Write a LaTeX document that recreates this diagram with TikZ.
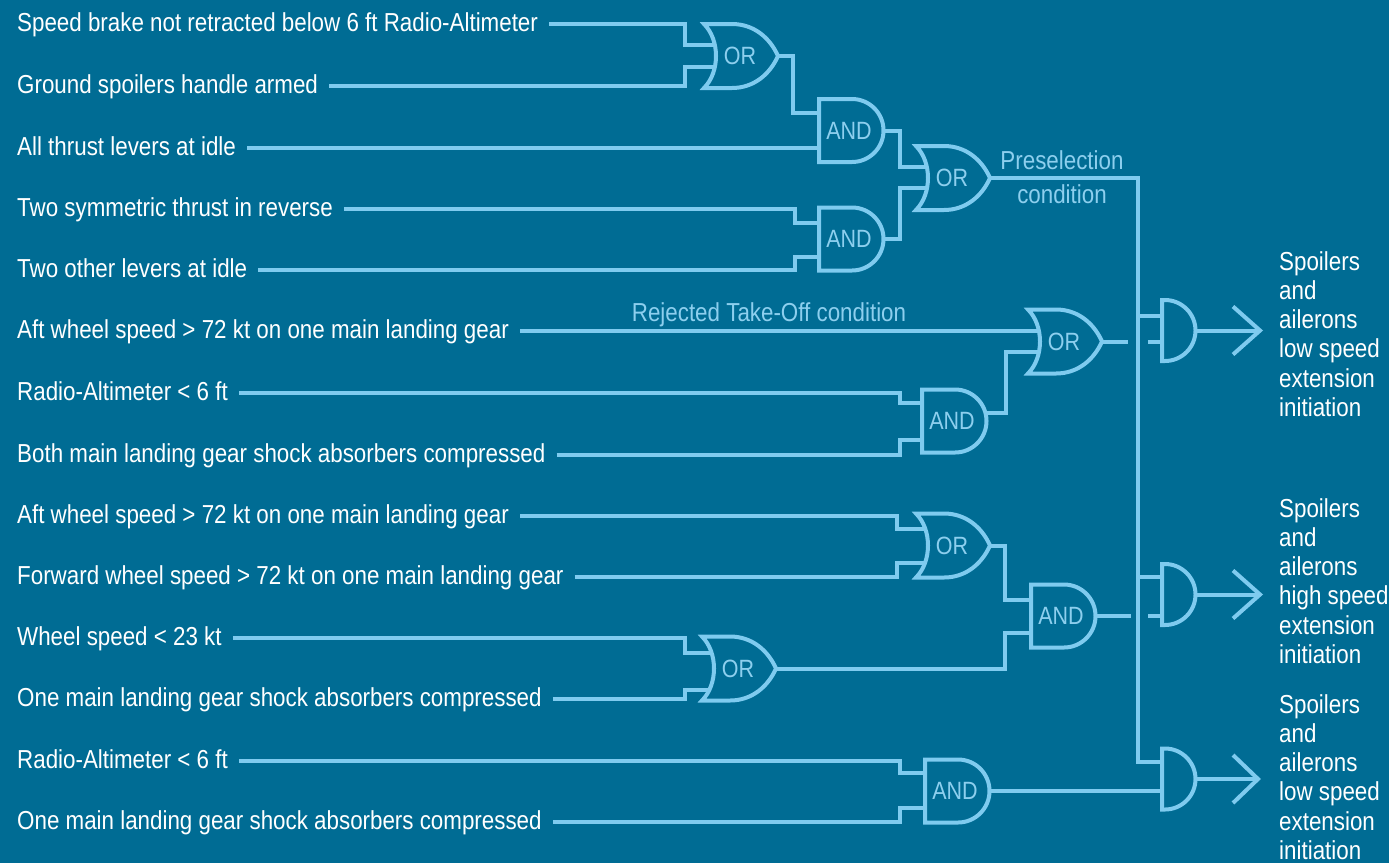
\documentclass[tikz,border=0pt]{standalone}
\usepackage{fontspec}
\setmainfont[FakeStretch=0.86]{Liberation Sans}
\usetikzlibrary{calc}
\definecolor{bgc}{HTML}{006C94}
\definecolor{wire}{HTML}{7FCBEF}
\definecolor{glab}{HTML}{8DCFEE}
\pgfdeclarelayer{bg}
\pgfsetlayers{bg,main}
\tikzset{
  wirestyle/.style={draw=wire, line width=4pt},
  gate/.style={draw=wire, fill=bgc, line width=4pt, line join=miter},
  gatelabel/.style={text=glab, font=\fontsize{25}{28}\selectfont, inner sep=0pt},
  inlabel/.style={text=white, font=\fontsize{26}{30}\selectfont, inner sep=0pt, anchor=base west},
  outlabel/.style={text=white, font=\fontsize{26}{29.3}\selectfont, inner sep=0pt, anchor=north west, align=left},
  condlabel/.style={text=glab, inner sep=0pt},
  pics/orgate/.style 2 args={code={
    \path[gate] (0,-32) -- (28,-32) .. controls (50,-32) and (66,-18) .. (74,0)
      .. controls (66,18) and (50,32) .. (28,32) -- (0,32)
      .. controls (16,16) and (16,-16) .. (0,-32) -- cycle;
    \node[gatelabel] (-t) at (36,0) {OR};
    \coordinate (-i1) at (0,#1);
    \coordinate (-i2) at (0,#2);
    \coordinate (-o) at (74,0);
  }},
  pics/andgate/.style n args={4}{code={
    \path[gate] (0,-31.5) -- (#1,-31.5) .. controls ({#1+17.4},-31.5) and ({#1+31.5},-17.4) .. ({#1+31.5},0)
      .. controls ({#1+31.5},17.4) and ({#1+17.4},31.5) .. (#1,31.5) -- (0,31.5) -- cycle;
    \node[gatelabel] (-t) at (30,0) {#4};
    \coordinate (-i1) at (0,#2);
    \coordinate (-i2) at (0,#3);
    \coordinate (-o) at ({#1+31.5},0);
  }},
  pics/smalland/.style 2 args={code={
    \path[gate] (0,-30.5) -- (3,-30.5) .. controls (19.8,-30.5) and (33.5,-16.8) .. (33.5,0)
      .. controls (33.5,16.8) and (19.8,30.5) .. (3,30.5) -- (0,30.5) -- cycle;
    \coordinate (-i1) at (0,#1);
    \coordinate (-i2) at (0,#2);
    \coordinate (-o) at (33.5,0);
  }}
}
\newcommand\wireto[3]{\draw[wirestyle] #1 -| ([xshift=-#2]#3) -- ([xshift=14]#3);}
\newcommand\lstart[1]{([xshift=11,yshift=7]#1.base east)}
\begin{document}
\begin{tikzpicture}[x=1pt,y=-1pt]
\useasboundingbox (0,0) rectangle (1389,863);

% input labels (baseline = wire row + 7)
\node[inlabel] (l1) at (17,31) {Speed brake not retracted below 6 ft Radio-Altimeter};
\node[inlabel] (l2) at (17,93) {Ground spoilers handle armed};
\node[inlabel] (l3) at (17,155) {All thrust levers at idle};
\node[inlabel] (l4) at (17,216) {Two symmetric thrust in reverse};
\node[inlabel] (l5) at (17,277) {Two other levers at idle};
\node[inlabel] (l6) at (17,338) {Aft wheel speed > 72 kt on one main landing gear};
\node[inlabel] (l7) at (17,400) {Radio-Altimeter < 6 ft};
\node[inlabel] (l8) at (17,462) {Both main landing gear shock absorbers compressed};
\node[inlabel] (l9) at (17,523) {Aft wheel speed > 72 kt on one main landing gear};
\node[inlabel] (l10) at (17,584) {Forward wheel speed > 72 kt on one main landing gear};
\node[inlabel] (l11) at (17,645) {Wheel speed < 23 kt};
\node[inlabel] (l12) at (17,706) {One main landing gear shock absorbers compressed};
\node[inlabel] (l13) at (17,768) {Radio-Altimeter < 6 ft};
\node[inlabel] (l14) at (17,829) {One main landing gear shock absorbers compressed};

% gates
\pic (or1) at (704,56) {orgate={-11}{11}};
\pic (and1) at (819,130.5) {andgate={33}{-17.5}{17.5}{AND}};
\pic (and2) at (819,239) {andgate={33}{-16}{18}{AND}};
\pic (or2) at (916,178) {orgate={-11}{10}};
\pic (or3) at (1028,341.5) {orgate={-10.5}{10.5}};
\pic (and4) at (922,421) {andgate={33}{-18}{19}{AND}};
\pic (or4) at (916,545.5) {orgate={-16.5}{17.5}};
\pic (and5) at (1031,616) {andgate={33}{-16}{17}{AND}};
\pic (or5) at (702,668.5) {orgate={-15.5}{21.5}};
\pic (and6) at (925,791) {andgate={33}{-18}{17}{AND}};
\pic (andT) at (1162,330.5) {smalland={-14.5}{11}};
\pic (andM) at (1162,594.5) {smalland={-17.5}{21.5}};
\pic (andB) at (1162,779) {smalland={-17}{12}};

\coordinate (tipT) at (1260,330.5);
\coordinate (tipM) at (1260,594.5);
\coordinate (tipB) at (1258,779);

% condition labels
\node[condlabel, font=\fontsize{26}{34}\selectfont, align=center, anchor=north] (pre) at (1062,150.5) {Preselection\\condition};
\node[condlabel, font=\fontsize{26}{30}\selectfont, anchor=base] (rto) at (769,321) {Rejected Take-Off condition};

% outputs
\node[outlabel] (oT) at (1279,251) {Spoilers\\and\\ailerons\\low speed\\extension\\initiation};
\node[outlabel] (oM) at (1279,498) {Spoilers\\and\\ailerons\\high speed\\extension\\initiation};
\node[outlabel] (oB) at (1279,694) {Spoilers\\and\\ailerons\\low speed\\extension\\initiation};

\begin{pgfonlayer}{bg}
\fill[bgc] (0,0) rectangle (1389,863);
% top block
\wireto{\lstart{l1}}{19}{or1-i1}
\wireto{\lstart{l2}}{19}{or1-i2}
\wireto{(or1-o)}{26}{and1-i1}
\draw[wirestyle] \lstart{l3} -- ([xshift=14]and1-i2);
\wireto{\lstart{l4}}{24}{and2-i1}
\wireto{\lstart{l5}}{24}{and2-i2}
\wireto{(and1-o)}{16}{or2-i1}
\wireto{(and2-o)}{16}{or2-i2}
% preselection bus
\draw[wirestyle] (or2-o) -| ([xshift=-24]andB-i1) -- ([xshift=14]andB-i1);
\draw[wirestyle] ([xshift=-24]andT-i1) -- ([xshift=14]andT-i1);
\draw[wirestyle] ([xshift=-24]andM-i1) -- ([xshift=14]andM-i1);
% rejected take-off block
\draw[wirestyle] \lstart{l6} -- ([xshift=14]or3-i1);
\wireto{\lstart{l7}}{22}{and4-i1}
\wireto{\lstart{l8}}{22}{and4-i2}
\wireto{([xshift=-3,yshift=8]and4-o)}{22}{or3-i2}
\draw[wirestyle] (or3-o) -- ([xshift=-34]andT-i2);
\draw[wirestyle] ([xshift=-14]andT-i2) -- ([xshift=14]andT-i2);
% high speed block
\wireto{\lstart{l9}}{19}{or4-i1}
\wireto{\lstart{l10}}{19}{or4-i2}
\wireto{\lstart{l11}}{17}{or5-i1}
\wireto{\lstart{l12}}{17}{or5-i2}
\wireto{(or4-o)}{26}{and5-i1}
\wireto{(or5-o)}{26}{and5-i2}
\draw[wirestyle] (and5-o) -- ([xshift=-31]andM-i2);
\draw[wirestyle] ([xshift=-14]andM-i2) -- ([xshift=14]andM-i2);
% bottom block
\wireto{\lstart{l13}}{25}{and6-i1}
\wireto{\lstart{l14}}{25}{and6-i2}
\draw[wirestyle] (and6-o) -- ([xshift=14]andB-i2);
% outputs
\draw[wirestyle] ([xshift=-3]andT-o) -- (tipT);
\draw[wirestyle] ([xshift=-3]andM-o) -- (tipM);
\draw[wirestyle] ([xshift=-3]andB-o) -- (tipB);
\end{pgfonlayer}
\draw[wirestyle] ([xshift=-27,yshift=24]tipT) -- (tipT) -- ([xshift=-27,yshift=-24]tipT);
\draw[wirestyle] ([xshift=-27,yshift=24]tipM) -- (tipM) -- ([xshift=-27,yshift=-24]tipM);
\draw[wirestyle] ([xshift=-25,yshift=24]tipB) -- (tipB) -- ([xshift=-25,yshift=-24]tipB);
\end{tikzpicture}
\end{document}
